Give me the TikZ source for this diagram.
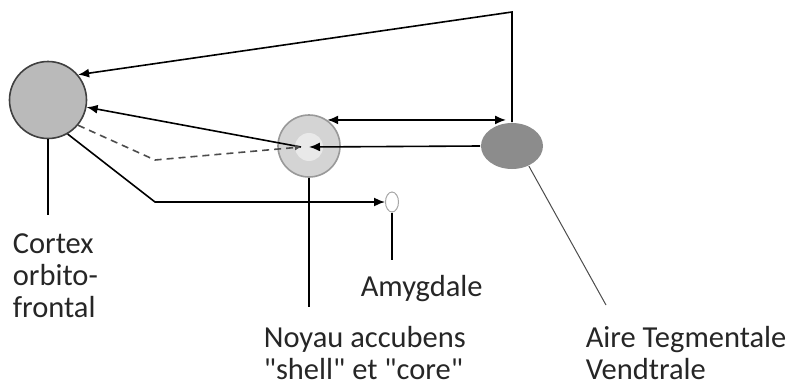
\documentclass[tikz,border=0pt]{standalone}
\usepackage{fontspec}
\setmainfont{Carlito}[Ligatures=TeXOff]
\usetikzlibrary{arrows.meta,shapes.geometric}
\definecolor{cortexgray}{HTML}{BABABA}
\definecolor{nacgray}{HTML}{D4D4D4}
\definecolor{coregray}{HTML}{E9E9E9}
\definecolor{atvgray}{HTML}{8C8C8C}

\begin{document}
\begin{tikzpicture}[x=1pt,y=-1pt,line width=1.6pt,
  tip/.style={-{Latex[length=11pt,width=9pt]}},
  lbl/.style={inner sep=0pt,align=left,font=\fontsize{30.5}{32}\selectfont,text=black!85}]
\useasboundingbox (0,0) rectangle (793,388);
% regions
\node[circle,draw=black!75,fill=cortexgray,minimum size=77pt] (cortex) at (48,100){};
\node[circle,draw=black!40,fill=nacgray,minimum size=62pt] (nac) at (309,146){};
\node[circle,fill=coregray,inner sep=0pt,minimum size=28pt] (core) at (309,147){};
\node[ellipse,fill=atvgray,minimum width=62pt,minimum height=46pt] (atv) at (512,146){};
\node[ellipse,draw=black!35,line width=1pt,fill=white,inner sep=0pt,minimum width=13pt,minimum height=20pt] (amy) at (392,202){};
% labels
\node[lbl,anchor=north west] (cortexlbl) at (12,233){Cortex\\orbito-\\frontal};
\node[lbl,anchor=north west] (amylbl) at (360,275){Amygdale};
\node[lbl,anchor=north west] (naclbl) at (263,326){Noyau accubens\\"shell" et "core"};
\node[lbl,anchor=north west] (atvlbl) at (585,326){Aire Tegmentale\\Vendtrale};
\coordinate (topc) at (0,12);
\coordinate (nacin) at (301,147);
\coordinate (bend1) at (155,202);
\coordinate (bend2) at (155,160);
% connections
\draw[tip] (atv.north) -- (atv.north |- topc) -- (cortex.40);
\draw[tip] (nacin) -- (cortex);
\draw[-{Latex[length=6pt,width=6pt]},dash pattern=on 7pt off 5pt,black!70] (cortex.-40) -- (bend2) -- (nacin);
\draw[{Latex[length=11pt,width=9pt]}-{Latex[length=11pt,width=9pt]}] (nac.55) -- ([xshift=-6pt]atv.north |- nac.55);
\draw[tip] (atv.west) -- (core.center);
\draw[tip] (cortex.-60) -- (bend1) -- (amy.west);
% leaders
\draw (cortex.south) -- ([yshift=18pt]cortex.south |- cortexlbl.north);
\draw (amy.south) -- ([yshift=15pt]amy.south |- amylbl.north);
\draw (nac.south) -- ([yshift=19pt]nac.south |- naclbl.north);
\draw[black!70,line width=1pt] (atv.-50) -- ([xshift=21pt,yshift=21pt]atvlbl.north west);
\end{tikzpicture}
\end{document}
